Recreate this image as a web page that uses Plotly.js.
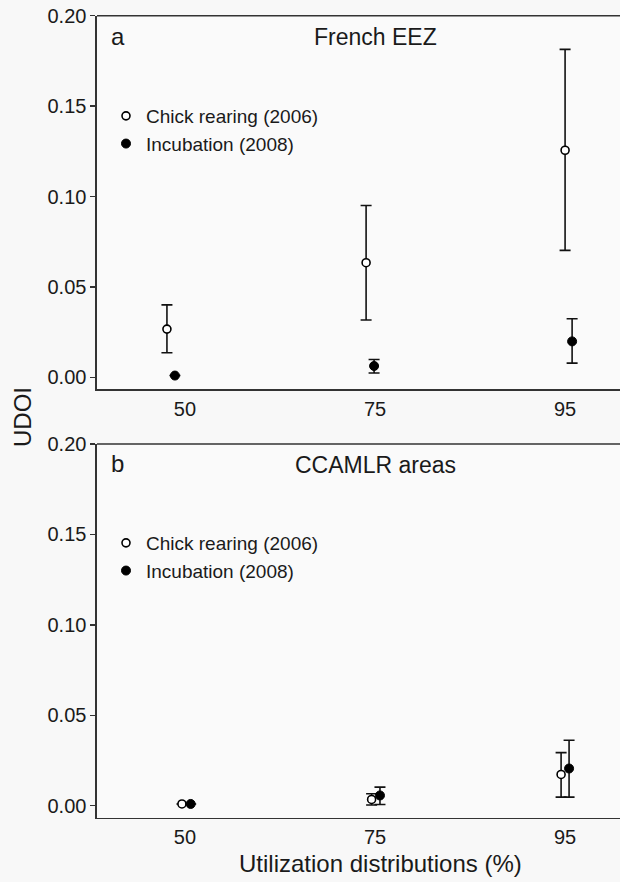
<!DOCTYPE html>
<html>
<head>
<meta charset="utf-8">
<script src="https://cdn.plot.ly/plotly-3.0.1.min.js"></script>
<style>html,body{margin:0;padding:0;background:#f8f8f8;}#chart{width:620px;height:882px;}</style>
</head>
<body>
<div id="chart"></div>
<script>
// ---- data ----
const categories = ['50', '75', '95'];
const catIndex = [0, 1, 2];
const seriesNames = ['Chick rearing (2006)', 'Incubation (2008)'];

// Panel a: French EEZ
const chickA = [0.0267, 0.0634, 0.1256];
const chickA_hi = [0.0401, 0.0950, 0.1814];
const chickA_lo = [0.0136, 0.0317, 0.0702];
const incA = [0.0010, 0.0063, 0.0199];
const incA_hi = [0.0010, 0.0099, 0.0324];
const incA_lo = [0.0010, 0.0024, 0.0079];
const chickA_dodge = [-0.095, -0.047, 0.0];
const incA_dodge = [-0.053, -0.005, 0.037];

// Panel b: CCAMLR areas
const chickB = [0.0010, 0.0035, 0.0173];
const chickB_hi = [0.0010, 0.0066, 0.0294];
const chickB_lo = [0.0010, 0.0004, 0.0048];
const incB = [0.0010, 0.0057, 0.0206];
const incB_hi = [0.0010, 0.0103, 0.0362];
const incB_lo = [0.0010, 0.0007, 0.0048];
const chickB_dodge = [-0.016, -0.018, -0.021];
const incB_dodge = [0.030, 0.026, 0.021];

const yTicks = [0, 0.05, 0.10, 0.15, 0.20];

// ---- helpers ----
const H = 882;
const py = p => 1 - p / H;
const FONT = 'Liberation Sans, Arial, Helvetica, sans-serif';
const INK = '#1a1a1a';

function mkTrace(vals, hi, lo, dodge, filled, xa, ya, leg, showleg, name) {
  return {
    type: 'scatter', mode: 'markers', name: name,
    x: catIndex.map((c, i) => c + dodge[i]), y: vals,
    xaxis: xa, yaxis: ya, legend: leg, showlegend: showleg,
    marker: filled
      ? {symbol: 'circle', size: 9, color: '#000', line: {color: '#000', width: 1}}
      : {symbol: 'circle', size: 8, color: '#ffffff', line: {color: '#000', width: 1.6}},
    error_y: {type: 'data', symmetric: false,
      array: hi.map((h, i) => h - vals[i]),
      arrayminus: lo.map((l, i) => vals[i] - l),
      color: '#111', thickness: 1.6, width: 5.5},
    hoverinfo: 'x+y'
  };
}

const traces = [
  mkTrace(chickA, chickA_hi, chickA_lo, chickA_dodge, false, 'x', 'y', 'legend', true, seriesNames[0]),
  mkTrace(incA, incA_hi, incA_lo, incA_dodge, true, 'x', 'y', 'legend', true, seriesNames[1]),
  mkTrace(chickB, chickB_hi, chickB_lo, chickB_dodge, false, 'x2', 'y2', 'legend2', true, seriesNames[0]),
  mkTrace(incB, incB_hi, incB_lo, incB_dodge, true, 'x2', 'y2', 'legend2', true, seriesNames[1])
];

const xCommon = {
  range: [-0.463, 2.289], tickvals: catIndex, ticktext: categories,
  showgrid: false, zeroline: false, showline: true, linecolor: '#333', linewidth: 1.6,
  ticks: '', ticklabelstandoff: 1,
  tickfont: {family: FONT, size: 20, color: INK}, fixedrange: true
};
const yCommon = {
  range: [-0.0066, 0.2], tickvals: yTicks, tickformat: '.2f',
  showgrid: false, zeroline: false, showline: true, linecolor: '#333', linewidth: 1.6,
  ticks: 'outside', ticklen: 5, tickwidth: 1.4, tickcolor: '#333',
  tickfont: {family: FONT, size: 20, color: INK}, fixedrange: true
};

const domA = [py(389.3), py(15.7)];
const domB = [py(817.7), py(444)];

const legCommon = {
  bgcolor: 'rgba(0,0,0,0)', font: {family: FONT, size: 19, color: INK},
  xanchor: 'left', yanchor: 'top', itemclick: false, itemdoubleclick: false,
  tracegroupgap: 0
};

const layout = {
  width: 620, height: 882,
  margin: {l: 97, r: 0, t: 0, b: 0},
  paper_bgcolor: '#f8f8f8', plot_bgcolor: '#fafafa',
  font: {family: FONT, color: INK},
  xaxis: Object.assign({}, xCommon, {domain: [0, 1], anchor: 'y'}),
  yaxis: Object.assign({}, yCommon, {domain: domA, anchor: 'x'}),
  xaxis2: Object.assign({}, xCommon, {domain: [0, 1], anchor: 'y2'}),
  yaxis2: Object.assign({}, yCommon, {domain: domB, anchor: 'x2'}),
  legend: Object.assign({}, legCommon, {x: (106 - 97) / 523, y: py(97)}),
  legend2: Object.assign({}, legCommon, {x: (106 - 97) / 523, y: py(524)}),
  shapes: [
    {type: 'line', xref: 'x domain', yref: 'y domain', x0: 0, x1: 1, y0: 1, y1: 1,
      line: {color: '#333', width: 1.6}},
    {type: 'line', xref: 'x2 domain', yref: 'y2 domain', x0: 0, x1: 1, y0: 1, y1: 1,
      line: {color: '#333', width: 1.6}}
  ],
  annotations: [
    {text: 'a', xref: 'paper', yref: 'paper', x: (109 - 97) / 523, y: py(36), xanchor: 'left', yanchor: 'middle',
      showarrow: false, font: {family: FONT, size: 24, color: INK}},
    {text: 'French EEZ', xref: 'paper', yref: 'paper', x: (375 - 97) / 523, y: py(37), xanchor: 'center', yanchor: 'middle',
      showarrow: false, font: {family: FONT, size: 23, color: INK}},
    {text: 'b', xref: 'paper', yref: 'paper', x: (109 - 97) / 523, y: py(464), xanchor: 'left', yanchor: 'middle',
      showarrow: false, font: {family: FONT, size: 24, color: INK}},
    {text: 'CCAMLR areas', xref: 'paper', yref: 'paper', x: (375 - 97) / 523, y: py(465), xanchor: 'center', yanchor: 'middle',
      showarrow: false, font: {family: FONT, size: 23, color: INK}},
    {text: 'UDOI', xref: 'paper', yref: 'paper', x: (22 - 97) / 523, y: py(417), xanchor: 'center', yanchor: 'middle',
      textangle: -90, showarrow: false, font: {family: FONT, size: 24, color: INK}},
    {text: 'Utilization distributions (%)', xref: 'paper', yref: 'paper', x: (380 - 97) / 523, y: py(863),
      xanchor: 'center', yanchor: 'middle', showarrow: false, font: {family: FONT, size: 24, color: INK}}
  ]
};

Plotly.newPlot('chart', traces, layout, {displayModeBar: false, staticPlot: true});
</script>
</body>
</html>
